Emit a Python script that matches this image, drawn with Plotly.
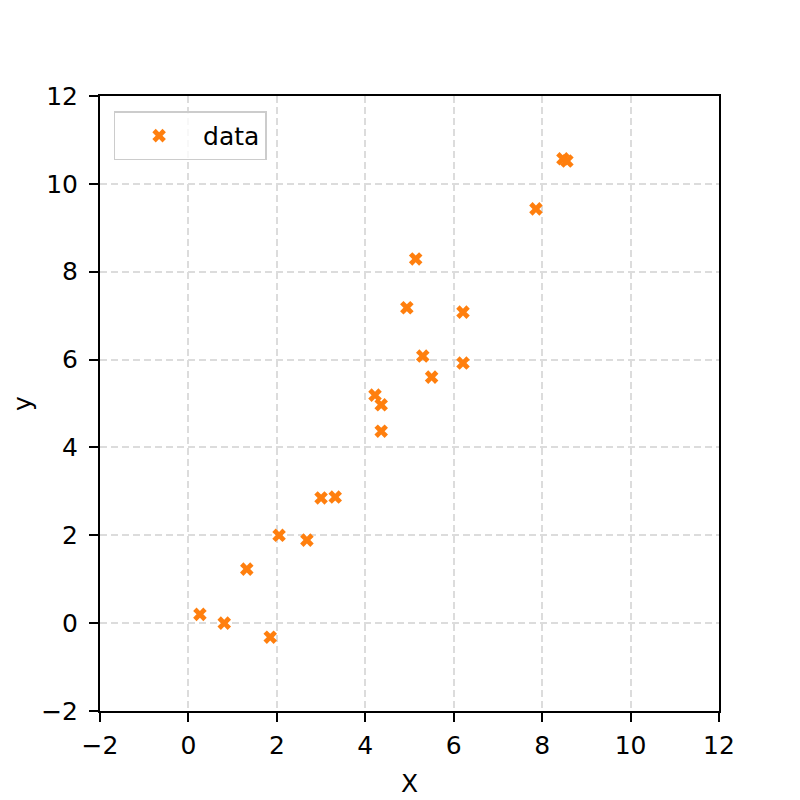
import plotly.graph_objects as go

# 散布データ
x_vals = [0.26, 0.81, 1.32, 1.85, 2.05, 2.68, 3.00, 3.32, 4.22, 4.36,
          4.36, 4.94, 5.14, 5.30, 5.50, 6.21, 6.21, 7.86, 8.47, 8.56]
y_vals = [0.20, 0.00, 1.23, -0.32, 2.00, 1.89, 2.85, 2.87, 5.19, 4.97,
          4.37, 7.18, 8.29, 6.08, 5.60, 7.08, 5.92, 9.43, 10.57, 10.52]
tick_vals = [-2, 0, 2, 4, 6, 8, 10, 12]
tick_text = ['\u22122', '0', '2', '4', '6', '8', '10', '12']

fig = go.Figure()
fig.add_trace(
    go.Scatter(
        x=x_vals,
        y=y_vals,
        mode='markers',
        name='data',
        marker=dict(symbol='x', size=12, color='#ff7f0e', line=dict(width=0)),
    )
)

axis_style = dict(
    range=[-2, 12],
    tickvals=tick_vals,
    ticktext=tick_text,
    showline=True,
    linecolor='black',
    linewidth=2,
    mirror=True,
    ticks='outside',
    ticklen=9,
    tickwidth=2,
    tickcolor='black',
    showgrid=True,
    gridcolor='#dcdcdc',
    griddash='7px,4px',
    gridwidth=1.5,
    zeroline=False,
    automargin=False,
    tickfont=dict(size=25, color='black'),
)

fig.update_xaxes(title=dict(text='X', font=dict(size=25)),
                 ticklabelstandoff=2, **axis_style)
fig.update_yaxes(title=dict(text='y', font=dict(size=25)),
                 ticklabelstandoff=6, **axis_style)

# ページ既定の余白(8px)を考慮した余白設定
fig.update_layout(
    width=800,
    height=800,
    margin=dict(l=92, r=89, t=88, b=97),
    plot_bgcolor='white',
    paper_bgcolor='white',
    font=dict(family='DejaVu Sans', color='black'),
    showlegend=True,
    legend=dict(
        x=0.022, y=0.975, xanchor='left', yanchor='top',
        bordercolor='#cccccc', borderwidth=1.5,
        bgcolor='rgba(255,255,255,0.8)',
        font=dict(size=25),
        itemwidth=78,
    ),
)

fig.write_html("out.html")
